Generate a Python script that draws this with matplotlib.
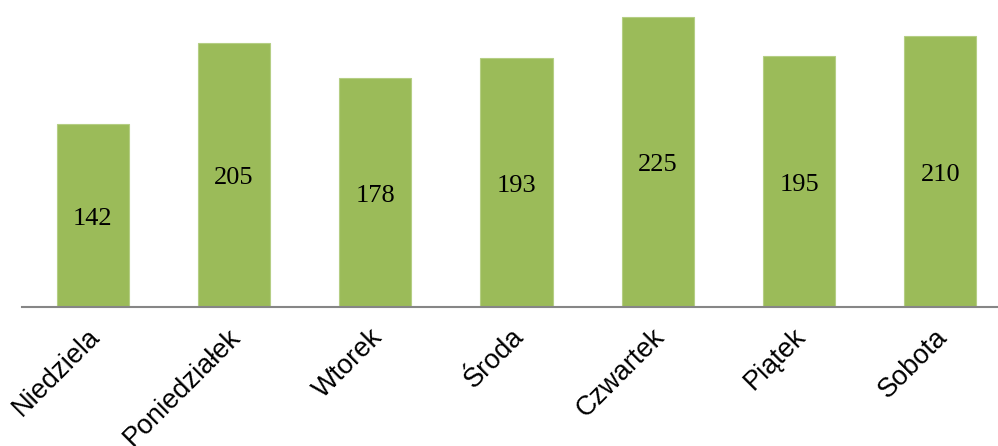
import matplotlib.pyplot as plt
import matplotlib.transforms as mtransforms

days = ['Niedziela', 'Poniedziałek', 'Wtorek', 'Środa', 'Czwartek', 'Piątek', 'Sobota']
counts = [142, 205, 178, 193, 225, 195, 210]

W, H = 998, 446
fig = plt.figure(figsize=(W / 100, H / 100), dpi=100)
# axes area: baseline at y=307px, first category starts at x=22px
ax = fig.add_axes([22 / W, (H - 307) / H, 989 / W, 307 / H])

x = range(len(days))
bars = ax.bar(x, counts, width=0.51, color='#9BBB59', edgecolor='#B5CE84', linewidth=0.8)

for xi, v in zip(x, counts):
    ax.annotate(str(v), (xi, v / 2), xytext=(0, -2.5), textcoords='offset points',
                ha='center', va='center', fontsize=19,
                family='Liberation Serif', color='black')

ax.set_xlim(-0.5, 6.5)
ax.set_ylim(0, 307 / 1.289)
ax.set_xticks(list(x))
ax.set_xticklabels(days, rotation=45, ha='right', rotation_mode='anchor',
                   fontsize=19.5, family='Liberation Sans')
ax.tick_params(axis='x', length=0, pad=12)
shift = mtransforms.ScaledTranslation(-6 / 100, 0, fig.dpi_scale_trans)
for lbl in ax.get_xticklabels():
    lbl.set_transform(lbl.get_transform() + shift)
ax.set_yticks([])
for s in ['top', 'right', 'left']:
    ax.spines[s].set_visible(False)
ax.spines['bottom'].set_color('#868686')
ax.spines['bottom'].set_linewidth(1.5)

fig.savefig('out.png', dpi=100)
